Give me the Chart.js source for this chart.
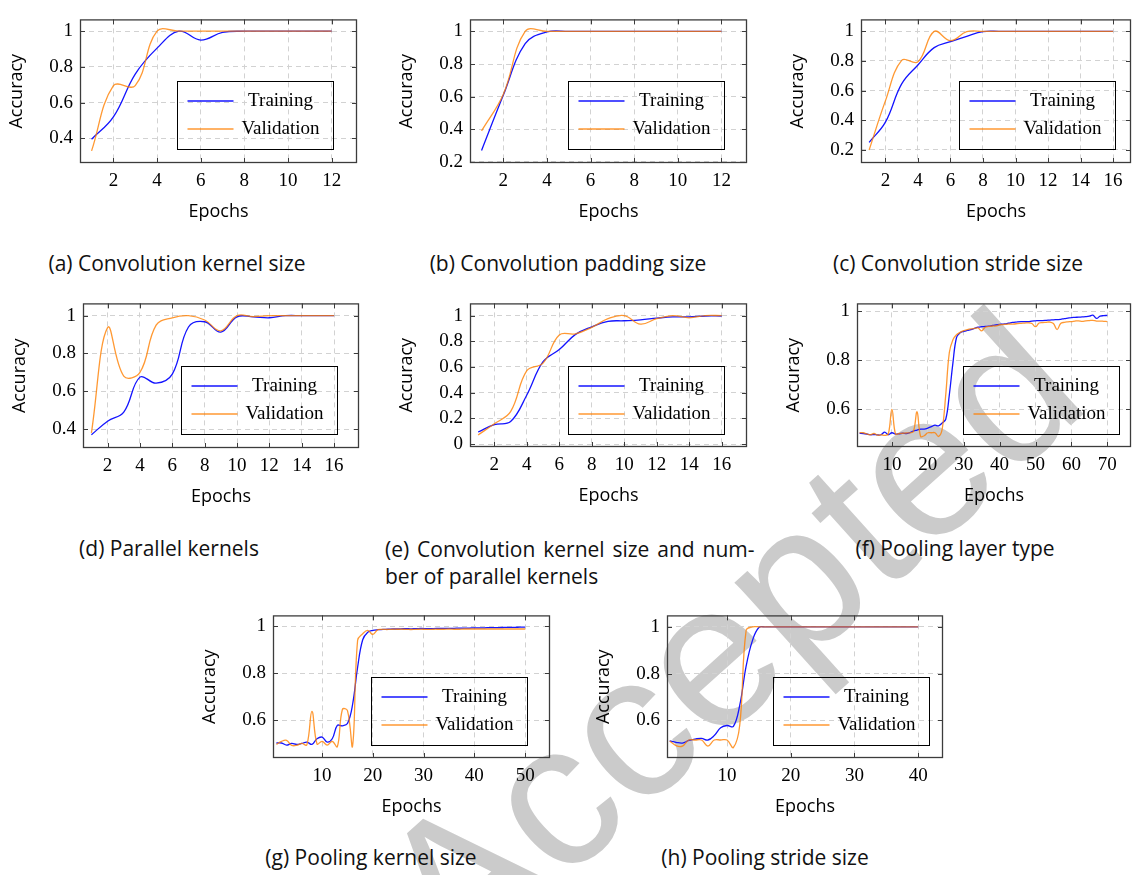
<!DOCTYPE html>
<html>
<head>
<meta charset="utf-8">
<title>Accuracy per epoch</title>
<script src="https://cdn.jsdelivr.net/npm/chart.js@4.4.1/dist/chart.umd.min.js"></script>
<style>
  html, body { margin: 0; padding: 0; background: #fff; overflow: hidden; }
  #page { position: relative; width: 1132px; height: 875px; overflow: hidden; }
  /* baseline-left of the stamp sits at (458, 976), rotated about that point */
  #stamp {
    position: absolute; left: 458px; top: 802.5px; z-index: 0;
    transform-origin: 0 173.5px; transform: rotate(-42deg);
    font-family: 'Liberation Sans', sans-serif; font-size: 205px; line-height: 1;
    color: #cbcbcb; white-space: nowrap;
  }
  canvas { position: absolute; z-index: 1; }
  .cap {
    position: absolute; z-index: 1; white-space: nowrap; color: #111;
    font-family: 'Open Sans', sans-serif; font-size: 21px; line-height: 24px;
    transform: translateX(-50%);
  }
  .cap.wrap { transform: none; line-height: 27px; }
</style>
</head>
<body>
<div id="page">
  <div id="stamp">Accepted</div>
  <div class="cap" style="left:177px; top:251px">(a) Convolution kernel size</div>
  <div class="cap" style="left:568px; top:251px">(b) Convolution padding size</div>
  <div class="cap" style="left:958px; top:251px">(c) Convolution stride size</div>
  <div class="cap" style="left:169px; top:536px">(d) Parallel kernels</div>
  <div class="cap wrap" style="left:385px; top:536px"><span style="word-spacing:2.4px">(e) Convolution kernel size and num-</span><br>ber of parallel kernels</div>
  <div class="cap" style="left:955px; top:536px">(f) Pooling layer type</div>
  <div class="cap" style="left:371px; top:845px">(g) Pooling kernel size</div>
  <div class="cap" style="left:765px; top:845px">(h) Pooling stride size</div>
</div>
<script>
// tick values
const xTicks12 = [2, 4, 6, 8, 10, 12];
const xTicks16 = [2, 4, 6, 8, 10, 12, 14, 16];
const xTicks70 = [10, 20, 30, 40, 50, 60, 70];
const xTicks50 = [10, 20, 30, 40, 50];
const xTicks40 = [10, 20, 30, 40];
const yTicks04 = [0.4, 0.6, 0.8, 1];
const yTicks02 = [0.2, 0.4, 0.6, 0.8, 1];
const yTicks00 = [0, 0.2, 0.4, 0.6, 0.8, 1];
const yTicks06 = [0.6, 0.8, 1];
const seriesLabels = ['Training', 'Validation'];

// accuracy per epoch (epoch 1 first)
const kernelSizeTrain = [0.395, 0.52, 0.76, 0.905, 1.0, 0.95, 0.993, 1, 1, 1, 1, 1];
const kernelSizeVal   = [0.33, 0.695, 0.695, 1.0, 1.0, 1, 1, 1, 1, 1, 1, 1];

const paddingTrain = [0.27, 0.61, 0.925, 0.997, 1, 1, 1, 1, 1, 1, 1, 1];
const paddingVal   = [0.39, 0.615, 1.0, 1.0, 1, 1, 1, 1, 1, 1, 1, 1];

const strideTrain = [0.25, 0.386, 0.645, 0.773, 0.89, 0.93, 0.967, 0.998, 1, 1, 1, 1, 1, 1, 1, 1];
const strideVal   = [0.198, 0.53, 0.804, 0.794, 1.0, 0.937, 0.998, 1, 1, 1, 1, 1, 1, 1, 1, 1];

const parallelTrain = [0.37, 0.442, 0.49, 0.675, 0.643, 0.691, 0.94, 0.968, 0.913, 0.994, 0.994, 0.989, 1, 1, 1, 1];
const parallelVal   = [0.38, 0.937, 0.68, 0.70, 0.95, 0.989, 1.0, 0.977, 0.92, 1.0, 0.995, 1.0, 1, 1, 1, 1];

const kernelParallelTrain = [0.094, 0.151, 0.175, 0.382, 0.641, 0.736, 0.854, 0.913, 0.955, 0.96, 0.967, 0.98, 0.99, 0.99, 0.997, 0.997];
const kernelParallelVal   = [0.071, 0.158, 0.252, 0.571, 0.63, 0.849, 0.858, 0.908, 0.976, 1.0, 0.934, 0.976, 1.0, 0.983, 1.0, 1.0];

const poolTypeTrain = [
  0.503, 0.502, 0.500, 0.497, 0.498, 0.496, 0.497, 0.508, 0.497, 0.505,
  0.500, 0.501, 0.503, 0.502, 0.506, 0.512, 0.516, 0.520, 0.520, 0.524,
  0.530, 0.536, 0.533, 0.545, 0.560, 0.660, 0.790, 0.893, 0.912, 0.918,
  0.922, 0.925, 0.930, 0.935, 0.937, 0.938, 0.939, 0.942, 0.944, 0.946,
  0.948, 0.950, 0.953, 0.955, 0.957, 0.958, 0.958, 0.958, 0.960, 0.961,
  0.962, 0.962, 0.963, 0.964, 0.965, 0.966, 0.967, 0.970, 0.972, 0.974,
  0.975, 0.976, 0.977, 0.978, 0.980, 0.984, 0.971, 0.980, 0.982, 0.983];
const poolTypeVal = [
  0.505, 0.505, 0.500, 0.497, 0.502, 0.495, 0.497, 0.494, 0.500, 0.600,
  0.500, 0.502, 0.503, 0.504, 0.505, 0.510, 0.590, 0.490, 0.493, 0.505,
  0.505, 0.505, 0.490, 0.520, 0.660, 0.832, 0.884, 0.904, 0.914, 0.921,
  0.925, 0.928, 0.930, 0.932, 0.920, 0.935, 0.938, 0.940, 0.940, 0.945,
  0.946, 0.947, 0.948, 0.948, 0.950, 0.951, 0.952, 0.953, 0.950, 0.937,
  0.952, 0.954, 0.955, 0.956, 0.950, 0.925, 0.950, 0.955, 0.957, 0.958,
  0.960, 0.961, 0.959, 0.961, 0.962, 0.963, 0.960, 0.960, 0.959, 0.958];

const poolKernelTrain = [
  0.502, 0.502, 0.493, 0.500, 0.496, 0.500, 0.506, 0.496, 0.520, 0.527,
  0.506, 0.520, 0.577, 0.575, 0.585, 0.665, 0.825, 0.942, 0.974, 0.982,
  0.985, 0.986, 0.987, 0.988, 0.988, 0.989, 0.989, 0.989, 0.990, 0.990,
  0.990, 0.990, 0.991, 0.991, 0.991, 0.991, 0.992, 0.992, 0.992, 0.993,
  0.993, 0.993, 0.994, 0.994, 0.994, 0.995, 0.995, 0.995, 0.996, 0.996];
const poolKernelVal = [
  0.496, 0.509, 0.513, 0.492, 0.492, 0.500, 0.494, 0.637, 0.498, 0.509,
  0.493, 0.509, 0.486, 0.645, 0.640, 0.489, 0.940, 0.968, 0.982, 0.965,
  0.985, 0.986, 0.986, 0.987, 0.987, 0.987, 0.986, 0.986, 0.987, 0.987,
  0.986, 0.987, 0.987, 0.987, 0.988, 0.987, 0.987, 0.988, 0.988, 0.988,
  0.988, 0.988, 0.988, 0.988, 0.988, 0.988, 0.988, 0.988, 0.988, 0.988];

const poolStrideTrain = [
  0.512, 0.506, 0.503, 0.514, 0.520, 0.523, 0.516, 0.535, 0.568, 0.578,
  0.574, 0.665, 0.832, 0.942, 0.997, 1, 1, 1, 1, 1,
  1, 1, 1, 1, 1, 1, 1, 1, 1, 1,
  1, 1, 1, 1, 1, 1, 1, 1, 1, 1];
const poolStrideVal = [
  0.512, 0.492, 0.490, 0.516, 0.516, 0.516, 0.490, 0.516, 0.516, 0.516,
  0.484, 0.580, 0.985, 1.0, 1, 1, 1, 1, 1, 1,
  1, 1, 1, 1, 1, 1, 1, 1, 1, 1,
  1, 1, 1, 1, 1, 1, 1, 1, 1, 1];

// look
const BLUE = 'rgb(20, 20, 255)';
const ORANGE = 'rgba(255, 128, 0, 0.8)';
const seriesColors = [BLUE, ORANGE];
const LINE_W = 1.3;
const GRID = '#d2d2d2';
const FRAME = '#3c3c3c';
const TICK_LEN = 5;
const SERIF = '"Liberation Serif", "Times New Roman", serif';
const SANS = '"Open Sans", sans-serif';
const TEXT_PX = 19;
// margins around each plot area inside its canvas
const PAD_L = 80, PAD_T = 4, PAD_R = 2, PAD_B = 65;
const LEG_W = 156, LEG_H = 68;

Chart.defaults.font.family = SERIF;
Chart.defaults.font.size = TEXT_PX;
Chart.defaults.color = '#000';

// rect = plot area [left, top, right, bottom] on the page, leg = legend gap to right/bottom edge
const panels = [
  { rect: [80, 5, 357, 163],   x: [0.47, 13.16], y: [0.262, 1.066], xt: xTicks12, yt: yTicks04, train: kernelSizeTrain,     val: kernelSizeVal,     leg: [24, 14] },
  { rect: [470, 5, 747, 163],  x: [0.47, 13.17], y: [0.193, 1.074], xt: xTicks12, yt: yTicks02, train: paddingTrain,        val: paddingVal,        leg: [23, 14] },
  { rect: [861, 5, 1131, 163], x: [0.5, 17.1],   y: [0.110, 1.081], xt: xTicks16, yt: yTicks02, train: strideTrain,         val: strideVal,         leg: [16, 14] },
  { rect: [83, 289, 359, 448], x: [0.48, 17.54], y: [0.30, 1.065],  xt: xTicks16, yt: yTicks04, train: parallelTrain,       val: parallelVal,       leg: [22, 14] },
  { rect: [470, 289, 747, 447],x: [0.5, 17.56],  y: [-0.023, 1.095],xt: xTicks16, yt: yTicks00, train: kernelParallelTrain, val: kernelParallelVal, leg: [23, 13] },
  { rect: [857, 289, 1131, 447],x: [0.28, 76.6], y: [0.447, 1.032], xt: xTicks70, yt: yTicks06, train: poolTypeTrain,       val: poolTypeVal,       leg: [12, 13] },
  { rect: [273, 601, 550, 758],x: [0.33, 54.9],  y: [0.438, 1.046], xt: xTicks50, yt: yTicks06, train: poolKernelTrain,     val: poolKernelVal,     leg: [23, 13] },
  { rect: [667, 601, 943, 758],x: [0.58, 43.9],  y: [0.439, 1.049], xt: xTicks40, yt: yTicks06, train: poolStrideTrain,     val: poolStrideVal,     leg: [14, 13] }
];

// box frame with inward ticks on all sides, plus the boxed legend
const pgfFrame = {
  id: 'pgfFrame',
  afterDraw(chart, args, opts) {
    const { ctx, chartArea: a, scales } = chart;
    ctx.save();
    ctx.setLineDash([]);
    ctx.strokeStyle = FRAME;
    ctx.lineWidth = 1;
    ctx.beginPath();
    scales.x.ticks.forEach(t => {
      const px = Math.round(scales.x.getPixelForValue(t.value)) + 0.5;
      ctx.moveTo(px, a.top); ctx.lineTo(px, a.top + TICK_LEN);
      ctx.moveTo(px, a.bottom); ctx.lineTo(px, a.bottom - TICK_LEN);
    });
    scales.y.ticks.forEach(t => {
      const py = Math.round(scales.y.getPixelForValue(t.value)) + 0.5;
      ctx.moveTo(a.left, py); ctx.lineTo(a.left + TICK_LEN, py);
      ctx.moveTo(a.right, py); ctx.lineTo(a.right - TICK_LEN, py);
    });
    ctx.stroke();
    ctx.lineWidth = 1.3;
    ctx.strokeRect(a.left + 0.5, a.top + 0.5, a.width - 1, a.height - 1);

    // legend
    const bx = Math.round(a.right - opts.gap[0] - LEG_W) + 0.5;
    const by = Math.round(a.bottom - opts.gap[1] - LEG_H) + 0.5;
    ctx.lineWidth = 1;
    ctx.strokeStyle = '#000';
    ctx.strokeRect(bx, by, LEG_W, LEG_H);
    ctx.font = TEXT_PX + 'px ' + SERIF;
    ctx.textAlign = 'center';
    ctx.textBaseline = 'middle';
    ctx.fillStyle = '#000';
    chart.data.datasets.forEach((ds, i) => {
      const ry = Math.round(by + 19 + i * 28);
      ctx.strokeStyle = seriesColors[i];
      ctx.lineWidth = LINE_W;
      ctx.beginPath();
      ctx.moveTo(bx + 10, ry); ctx.lineTo(bx + 56, ry);
      ctx.stroke();
      ctx.fillText(ds.label, bx + 103, ry);
    });
    ctx.restore();
  }
};

const toPoints = arr => arr.map((v, i) => ({ x: i + 1, y: v }));
const fmtY = v => String(Math.round(v * 10) / 10);
const tickFont = { family: SERIF, size: TEXT_PX };
const titleFont = { family: SANS, size: 18 };

const page = document.getElementById('page');
panels.forEach(p => {
  const [L, T, R, B] = p.rect;
  const w = R - L + PAD_L + PAD_R;
  const h = B - T + PAD_T + PAD_B;
  const cv = document.createElement('canvas');
  cv.width = w; cv.height = h;
  cv.style.left = (L - PAD_L) + 'px';
  cv.style.top = (T - PAD_T) + 'px';
  cv.style.width = w + 'px';
  cv.style.height = h + 'px';
  page.appendChild(cv);

  new Chart(cv, {
    type: 'line',
    data: {
      datasets: [
        { label: seriesLabels[0], data: toPoints(p.train), borderColor: seriesColors[0], borderWidth: LINE_W, order: 1 },
        { label: seriesLabels[1], data: toPoints(p.val), borderColor: seriesColors[1], borderWidth: LINE_W, order: 0 }
      ]
    },
    options: {
      responsive: false,
      animation: false,
      devicePixelRatio: 1,
      events: [],
      layout: { padding: { top: PAD_T, right: PAD_R, left: 0, bottom: 0 } },
      elements: { point: { radius: 0 }, line: { tension: 0.4, fill: false } },
      plugins: { legend: { display: false }, tooltip: { enabled: false }, pgfFrame: { gap: p.leg } },
      scales: {
        x: {
          type: 'linear', min: p.x[0], max: p.x[1],
          afterBuildTicks: s => { s.ticks = p.xt.map(v => ({ value: v })); },
          afterFit: s => { s.height = PAD_B; },
          grid: { color: GRID, lineWidth: 1, drawTicks: false },
          border: { display: false, dash: [5, 4] },
          ticks: { autoSkip: false, maxRotation: 0, padding: 7, color: '#000', font: tickFont },
          title: { display: true, text: 'Epochs', color: '#000', font: titleFont, padding: { top: 0, bottom: 5.2 } }
        },
        y: {
          type: 'linear', min: p.y[0], max: p.y[1],
          afterBuildTicks: s => { s.ticks = p.yt.map(v => ({ value: v })); },
          afterFit: s => { s.width = PAD_L; },
          grid: { color: GRID, lineWidth: 1, drawTicks: false },
          border: { display: false, dash: [5, 4] },
          ticks: { autoSkip: false, padding: 7, color: '#000', font: tickFont, callback: fmtY },
          title: { display: true, text: 'Accuracy', color: '#000', font: titleFont, padding: { top: 5.7, bottom: 0 } }
        }
      }
    },
    plugins: [pgfFrame]
  });
});
</script>
</body>
</html>
